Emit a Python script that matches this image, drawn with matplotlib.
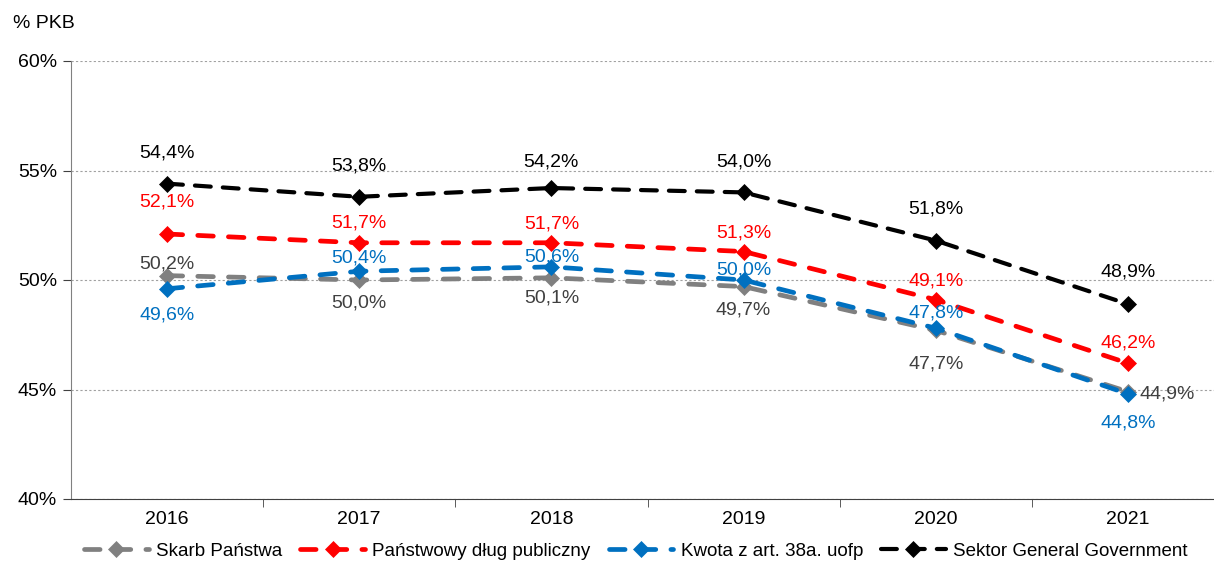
import matplotlib.pyplot as plt

#------------Data-------------------------------------#
years = ['2016', '2017', '2018', '2019', '2020', '2021']
skarb = [50.2, 50.0, 50.1, 49.7, 47.7, 44.9]
dlug = [52.1, 51.7, 51.7, 51.3, 49.1, 46.2]
kwota = [49.6, 50.4, 50.6, 50.0, 47.8, 44.8]
sektor = [54.4, 53.8, 54.2, 54.0, 51.8, 48.9]
names = ['Skarb Państwa', 'Państwowy dług publiczny', 'Kwota z art. 38a. uofp', 'Sektor General Government']
#-----------------------------------------------------#

#------------Styles / label layout (pixel offsets of label centre)------#
colors = ['#808080', '#FF0000', '#0070C0', '#000000']
label_colors = ['#404040', '#FF0000', '#0070C0', '#000000']
widths = [3.4, 3.4, 3.4, 3.0]
dashes = [(3.3, 3.2), (3.3, 3.2), (3.3, 3.2), (3.8, 2.9)]
skarb_off = [(0, 12), (0, -23), (0, -20), (0, -23), (0, -34), (39, -2)]
dlug_off = [(0, 32), (0, 20), (0, 19), (0, 19), (0, 19), (0, 20)]
kwota_off = [(0, -26), (0, 13), (0, 10), (0, 10), (0, 15), (0, -29)]
sektor_off = [(0, 31), (0, 31), (0, 26), (0, 30), (0, 32), (0, 32)]
#-----------------------------------------------------#

plt.rcParams['font.family'] = ['Liberation Sans', 'DejaVu Sans']

fig = plt.figure(figsize=(12.14, 5.63), dpi=100)
ax = fig.add_axes([71 / 1214, 64 / 563, 1153 / 1214, 438 / 563])

x = list(range(len(years)))
series = [skarb, dlug, kwota, sektor]
offsets = [skarb_off, dlug_off, kwota_off, sektor_off]

for vals, name, col, lw, ds in zip(series, names, colors, widths, dashes):
    ax.plot(x, vals, color=col, lw=lw, ls=(0, ds), dash_capstyle='round', marker='D', ms=8.5,
            markeredgecolor=col, markeredgewidth=0.5, label=name, zorder=3)

for vals, offs, col in zip(series, offsets, label_colors):
    for i, (v, o) in enumerate(zip(vals, offs)):
        txt = '{:.1f}%'.format(v).replace('.', ',')
        ax.annotate(txt, (i, v), xytext=o, textcoords='offset pixels',
                    ha='center', va='center', color=col, fontsize=14, zorder=4)

ax.set_ylim(40, 60)
ax.set_xlim(-0.5, len(years) - 0.5)
ax.set_yticks([40, 45, 50, 55, 60])
ax.set_yticklabels(['40%', '45%', '50%', '55%', '60%'], fontsize=14)
ax.set_xticks(x)
ax.set_xticklabels(years, fontsize=14)
ax.set_xticks([i + 0.5 for i in x[:-1]], minor=True)
ax.tick_params(axis='x', which='major', length=0, pad=9)
ax.tick_params(axis='x', which='minor', length=6, direction='out', color='#404040')
ax.tick_params(axis='y', length=6, direction='out', color='#404040', pad=4)
ax.yaxis.grid(True, ls=(0, (2, 2)), color='#a0a0a0', lw=0.8)
ax.set_axisbelow(True)
for s in ['top', 'right']:
    ax.spines[s].set_visible(False)
ax.spines['left'].set_color('#808080')
ax.spines['bottom'].set_color('#404040')

fig.text(13 / 1214, 1 - 24 / 563, '% PKB', fontsize=14, va='center')

leg = ax.legend(loc='center left', bbox_to_anchor=(13 / 1153, -52 / 438), ncol=4, frameon=False,
                fontsize=13.5, handlelength=3.45, columnspacing=0.95, handletextpad=0.4,
                borderaxespad=0, borderpad=0)

fig.savefig('out.png', dpi=100)
